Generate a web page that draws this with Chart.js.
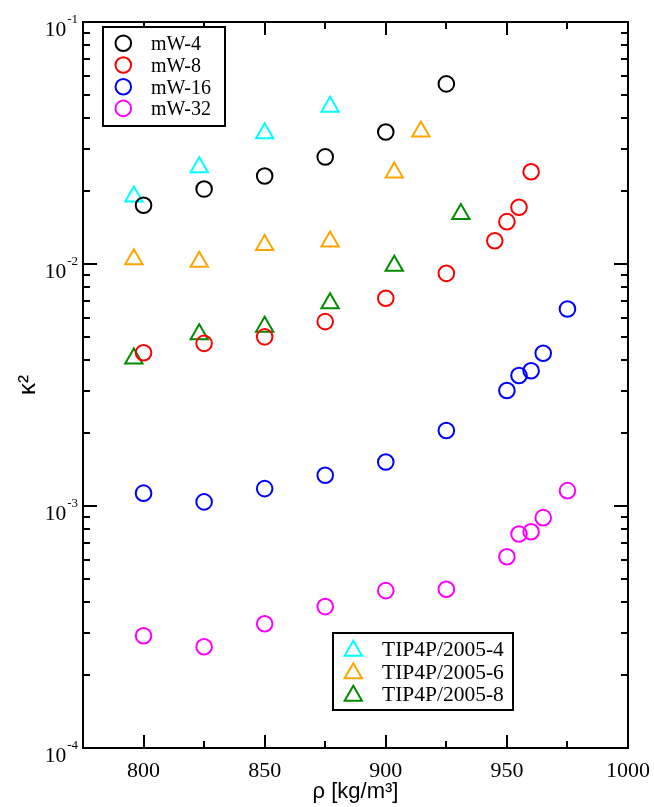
<!DOCTYPE html>
<html>
<head>
<meta charset="utf-8">
<script src="https://cdn.jsdelivr.net/npm/chart.js@4.4.1/dist/chart.umd.min.js"></script>
<style>
  html, body { margin: 0; padding: 0; background: #fff; }
  #wrap { width: 654px; height: 807px; }
</style>
</head>
<body>
<div id="wrap"><canvas id="chart" width="654" height="807"></canvas></div>
<script>
// values (density in kg/m3, kappa^2)
const mw4X = [800, 825, 850, 875, 900, 925];
const mw4Y = [0.0175, 0.0204, 0.0231, 0.0277, 0.0351, 0.0555];

const mw8X = [800, 825, 850, 875, 900, 925, 945, 950, 955, 960];
const mw8Y = [0.0043, 0.0047, 0.0050, 0.00578, 0.00722, 0.00915, 0.01248, 0.01496, 0.01715, 0.02406];

const mw16X = [800, 825, 850, 875, 900, 925, 950, 955, 960, 965, 975];
const mw16Y = [0.00113, 0.00104, 0.00118, 0.00134, 0.00152, 0.00205, 0.00300, 0.00346, 0.00362, 0.00428, 0.00652];

const mw32X = [800, 825, 850, 875, 900, 925, 950, 955, 960, 965, 975];
const mw32Y = [0.000291, 0.000262, 0.000326, 0.000384, 0.000447, 0.000453, 0.000617, 0.000766, 0.000783, 0.000895, 0.001157];

const tip4X = [796, 823, 850, 877];
const tip4Y = [0.0190, 0.0251, 0.0347, 0.0447];

const tip6X = [796, 823, 850, 877, 903.5, 914.5];
const tip6Y = [0.01047, 0.01022, 0.01197, 0.0124, 0.0239, 0.0353];

const tip8X = [796, 823, 850, 877, 903.5, 931];
const tip8Y = [0.00407, 0.00513, 0.0055, 0.00688, 0.00984, 0.0161];

const circleNames = ['mW-4', 'mW-8', 'mW-16', 'mW-32'];
const circleColors = ['#000000', '#ff0000', '#0000ff', '#ff00ff'];
const triNames = ['TIP4P/2005-4', 'TIP4P/2005-6', 'TIP4P/2005-8'];
const triColors = ['#00ffff', '#ffa500', '#008b00'];

const yDecades = [-4, -3, -2, -1];

const SERIF = "'Liberation Serif', 'Times New Roman', serif";
const SANS = "'Liberation Sans', Arial, sans-serif";

function pts(xs, ys) {
    return xs.map((x, i) => ({ x: x, y: ys[i] }));
}

function circleSet(label, xs, ys, color) {
    return {
        label: label, data: pts(xs, ys), showLine: false,
        pointStyle: 'circle', pointRadius: 7.8, pointHoverRadius: 7.8,
        borderColor: color, backgroundColor: 'rgba(0,0,0,0)', borderWidth: 2
    };
}

function triSet(label, xs, ys, color) {
    return {
        label: label, data: pts(xs, ys), showLine: false,
        pointStyle: 'triangle', pointRadius: 10, pointHoverRadius: 10,
        borderColor: color, backgroundColor: 'rgba(0,0,0,0)', borderWidth: 2
    };
}

function drawCircle(ctx, x, y, color) {
    ctx.beginPath();
    ctx.arc(x, y, 7.8, 0, Math.PI * 2);
    ctx.strokeStyle = color;
    ctx.lineWidth = 2;
    ctx.stroke();
}

function drawTriangle(ctx, x, y, color) {
    const r = 10;
    ctx.beginPath();
    for (let k = 0; k < 3; k++) {
        const a = k * 2 * Math.PI / 3;
        const px = x + Math.sin(a) * r, py = y - Math.cos(a) * r;
        if (k === 0) ctx.moveTo(px, py); else ctx.lineTo(px, py);
    }
    ctx.closePath();
    ctx.strokeStyle = color;
    ctx.lineWidth = 2;
    ctx.stroke();
}

// frame, inward ticks, 10^n labels and the two legend boxes
const framePlugin = {
    id: 'frame',
    afterDatasetsDraw(chart) {
        const { ctx, chartArea: a, scales } = chart;
        const xs = scales.x, ys = scales.y;
        ctx.save();
        ctx.strokeStyle = '#000';
        ctx.lineWidth = 2;
        ctx.lineCap = 'butt';

        // x ticks, bottom and top
        xs.ticks.forEach(t => {
            const px = Math.round(xs.getPixelForValue(t.value));
            const len = t.value % 50 === 0 ? 13 : 7;
            ctx.beginPath();
            ctx.moveTo(px, a.bottom); ctx.lineTo(px, a.bottom - len);
            ctx.moveTo(px, a.top); ctx.lineTo(px, a.top + len);
            ctx.stroke();
        });

        // y ticks (log decades + minors), left and right
        yDecades.forEach(e => {
            for (let m = 1; m <= 9; m++) {
                const v = m * Math.pow(10, e);
                if (v > ys.max * 1.0001) continue;
                const py = Math.round(ys.getPixelForValue(v));
                const len = m === 1 ? 14 : 7;
                ctx.beginPath();
                ctx.moveTo(a.left, py); ctx.lineTo(a.left + len, py);
                ctx.moveTo(a.right, py); ctx.lineTo(a.right - len, py);
                ctx.stroke();
            }
        });

        ctx.strokeRect(a.left, a.top, a.right - a.left, a.bottom - a.top);

        // y labels as 10^n
        ctx.fillStyle = '#000';
        yDecades.forEach(e => {
            const py = ys.getPixelForValue(Math.pow(10, e));
            ctx.font = '13px ' + SERIF;
            ctx.textAlign = 'right';
            ctx.textBaseline = 'alphabetic';
            ctx.fillText('-' + Math.abs(e), 78, py + 0.5);
            const supW = ctx.measureText('-' + Math.abs(e)).width;
            ctx.font = '21.5px ' + SERIF;
            ctx.fillText('10', 77 - supW, py + 14);
        });
        ctx.restore();
    },
    afterDraw(chart) {
        const ctx = chart.ctx;
        ctx.save();

        // legend of the mW series
        ctx.fillStyle = '#fff';
        ctx.fillRect(103, 27, 122, 99);
        ctx.strokeStyle = '#000';
        ctx.lineWidth = 2;
        ctx.strokeRect(103, 27, 122, 99);
        ctx.font = '20px ' + SERIF;
        ctx.textAlign = 'left';
        ctx.textBaseline = 'alphabetic';
        circleNames.forEach((n, i) => {
            const y = 43.3 + i * 21.7;
            drawCircle(ctx, 123.3, y, circleColors[i]);
            ctx.fillStyle = '#000';
            ctx.fillText(n, 151, y + 7);
        });

        // legend of the TIP4P series
        ctx.fillStyle = '#fff';
        ctx.fillRect(333, 633, 180, 77);
        ctx.strokeStyle = '#000';
        ctx.lineWidth = 2;
        ctx.strokeRect(333, 633, 180, 77);
        ctx.font = '21.5px ' + SERIF;
        triNames.forEach((n, i) => {
            const y = 648.3 + i * 22.5;
            drawTriangle(ctx, 353.3, y + 2.5, triColors[i]);
            ctx.fillStyle = '#000';
            ctx.fillText(n, 382, y + 8);
        });
        ctx.restore();
    }
};

new Chart(document.getElementById('chart'), {
    type: 'scatter',
    data: {
        datasets: [
            circleSet(circleNames[0], mw4X, mw4Y, circleColors[0]),
            circleSet(circleNames[1], mw8X, mw8Y, circleColors[1]),
            circleSet(circleNames[2], mw16X, mw16Y, circleColors[2]),
            circleSet(circleNames[3], mw32X, mw32Y, circleColors[3]),
            triSet(triNames[0], tip4X, tip4Y, triColors[0]),
            triSet(triNames[1], tip6X, tip6Y, triColors[1]),
            triSet(triNames[2], tip8X, tip8Y, triColors[2])
        ]
    },
    options: {
        responsive: false,
        animation: false,
        events: [],
        layout: { padding: { top: 22, right: 26, bottom: 0, left: 0 } },
        plugins: {
            legend: { display: false },
            tooltip: { enabled: false }
        },
        scales: {
            x: {
                type: 'linear',
                min: 775, max: 1000,
                grid: { display: false },
                border: { display: false },
                ticks: {
                    stepSize: 25,
                    padding: 2,
                    color: '#000',
                    font: { family: SERIF, size: 22 },
                    maxRotation: 0,
                    autoSkip: false,
                    callback: v => (v % 50 === 0 ? String(v) : '')
                },
                title: {
                    display: true,
                    text: 'ρ [kg/m³]',
                    color: '#000',
                    font: { family: SANS, size: 22 },
                    padding: { top: 0, bottom: 2 }
                },
                afterFit: s => { s.height = 59; }
            },
            y: {
                type: 'logarithmic',
                min: 1e-4, max: 1e-1,
                grid: { display: false },
                border: { display: false },
                ticks: { display: false },
                title: {
                    display: true,
                    text: 'κ²',
                    color: '#000',
                    font: { family: SANS, size: 24 },
                    padding: { top: 14, bottom: 0 }
                },
                afterFit: s => { s.width = 83; }
            }
        }
    },
    plugins: [framePlugin]
});
</script>
</body>
</html>
